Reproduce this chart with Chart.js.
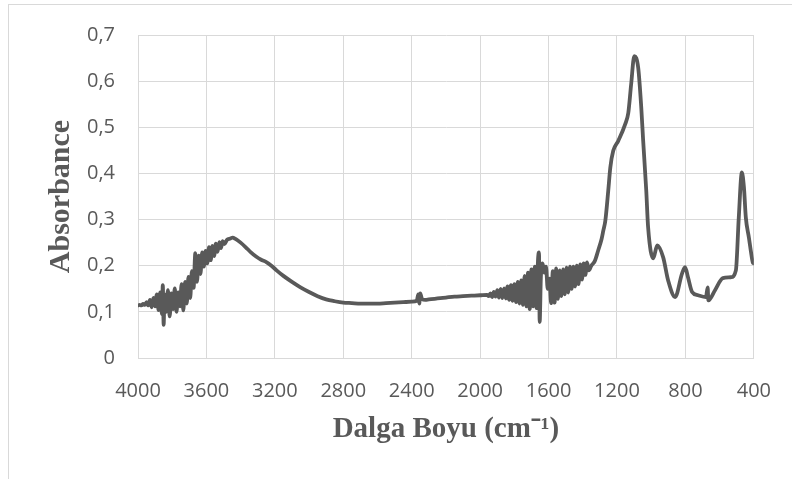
<!DOCTYPE html>
<html>
<head>
<meta charset="utf-8">
<script src="https://cdn.jsdelivr.net/npm/chart.js@4/dist/chart.umd.min.js"></script>
<style>
  html, body { margin: 0; padding: 0; background: #ffffff; overflow: hidden; }
  #wrap { position: relative; width: 792px; height: 479px; }
  #frame { position: absolute; left: 8px; top: 4px; width: 900px; height: 600px; border-top: 1px solid #d9d9d9; border-left: 1px solid #d9d9d9; }
  #c { position: absolute; left: 0; top: 0; }
</style>
</head>
<body>
<div id="wrap">
  <div id="frame"></div>
  <canvas id="c" width="792" height="479"></canvas>
</div>
<script>
// Wavenumber (cm-1) values
const wavenumbers = [
  4000,3990,3980,3970,3960,3950,3940,3930,3920,3910,3900,3890,3880,3870,3860,3855,3850,3845,
  3835,3825,3815,3805,3795,3785,3775,3765,3755,3745,3735,3725,3715,3705,3695,3685,3675,3665,
  3655,3645,3635,3625,3615,3605,3595,3585,3575,3565,3555,3545,3535,3525,3515,3505,3495,3480,
  3460,3447,3430,3400,3370,3340,3310,3280,3250,3220,3190,3150,3100,3050,3000,2950,2900,2850,
  2800,2750,2700,2650,2600,2550,2500,2450,2400,2370,2362,2356,2350,2340,2320,2300,2250,2200,
  2150,2100,2050,2000,1960,1950,1940,1930,1920,1910,1900,1890,1880,1870,1860,1850,1840,1830,
  1820,1810,1800,1790,1780,1770,1760,1750,1740,1730,1720,1710,1700,1690,1680,1670,1662,1656,
  1652,1645,1635,1625,1615,1605,1595,1585,1575,1565,1555,1545,1535,1525,1515,1505,1495,1485,
  1475,1465,1455,1445,1435,1425,1415,1405,1395,1385,1375,1365,1350,1330,1310,1290,1280,1268,
  1251,1239,1222,1192,1152,1134,1117,1099,1076,1058,1047,1029,1018,988,965,930,901,860,
  820,802,785,761,726,680,670,666,627,581,534,505,488,470,458,447,429,418,406,400
];
// Absorbance values
const absorbance = [
  0.114,0.115,0.114,0.117,0.115,0.121,0.114,0.126,0.110,0.130,0.112,0.138,0.104,0.142,0.095,0.158,0.072,0.138,
  0.100,0.147,0.090,0.140,0.106,0.151,0.100,0.142,0.112,0.160,0.103,0.165,0.118,0.176,0.130,0.188,0.152,0.227,
  0.165,0.222,0.182,0.229,0.198,0.232,0.205,0.240,0.212,0.243,0.221,0.248,0.230,0.251,0.238,0.253,0.247,0.256,
  0.259,0.261,0.258,0.250,0.240,0.229,0.220,0.213,0.208,0.200,0.190,0.178,0.165,0.153,0.143,0.134,0.127,0.123,
  0.120,0.119,0.118,0.118,0.118,0.119,0.120,0.121,0.122,0.124,0.138,0.118,0.140,0.128,0.126,0.127,0.129,0.131,
  0.133,0.134,0.135,0.136,0.137,0.134,0.140,0.132,0.143,0.133,0.147,0.131,0.150,0.130,0.151,0.129,0.155,0.126,
  0.158,0.124,0.160,0.121,0.165,0.118,0.168,0.115,0.178,0.112,0.185,0.106,0.192,0.112,0.198,0.108,0.210,0.229,
  0.078,0.175,0.205,0.185,0.198,0.150,0.172,0.119,0.188,0.120,0.194,0.128,0.190,0.134,0.192,0.138,0.196,0.142,
  0.198,0.150,0.198,0.155,0.200,0.160,0.203,0.170,0.205,0.180,0.207,0.190,0.200,0.210,0.233,0.258,0.276,0.298,
  0.363,0.413,0.449,0.471,0.507,0.531,0.594,0.654,0.629,0.542,0.471,0.363,0.283,0.216,0.244,0.218,0.168,0.132,
  0.183,0.197,0.175,0.143,0.136,0.132,0.153,0.125,0.147,0.173,0.175,0.190,0.305,0.402,0.370,0.305,0.261,0.233,0.207,0.205
];
const xRange = [400, 4000];
const xStep = 400;
const yRange = [0, 0.7];
const yStep = 0.1;
const xTitle = 'Dalga Boyu (cm\u207B\u00B9)';
const yTitle = 'Absorbance';

const points = wavenumbers.map((w, i) => ({ x: w, y: absorbance[i] }));
const textColor = '#595959';
const gridColor = '#d9d9d9';

new Chart(document.getElementById('c'), {
  type: 'line',
  data: {
    datasets: [{
      data: points,
      borderColor: '#595959',
      borderWidth: 3.8,
      pointRadius: 0,
      fill: false,
      cubicInterpolationMode: 'monotone',
      borderJoinStyle: 'round',
      borderCapStyle: 'round'
    }]
  },
  options: {
    responsive: false,
    animation: false,
    devicePixelRatio: 1,
    layout: { padding: { left: 0, right: 36, top: 34, bottom: 0 } },
    plugins: { legend: { display: false }, tooltip: { enabled: false } },
    scales: {
      x: {
        type: 'linear',
        reverse: true,
        min: xRange[0],
        max: xRange[1],
        afterFit: (s) => { s.height = 121; },
        grid: { color: gridColor, lineWidth: 1, drawTicks: false },
        border: { color: gridColor, width: 1 },
        ticks: {
          stepSize: xStep,
          autoSkip: false,
          maxRotation: 0,
          padding: 21,
          color: textColor,
          font: { family: 'Open Sans', size: 20 },
          callback: (v) => String(v)
        },
        title: {
          display: true,
          text: xTitle,
          color: textColor,
          font: { family: 'Liberation Serif', size: 29, weight: 'bold' },
          padding: { top: 0, bottom: 32 }
        }
      },
      y: {
        type: 'linear',
        min: yRange[0],
        max: yRange[1],
        afterFit: (s) => { s.width = 138; },
        grid: { color: gridColor, lineWidth: 1, drawTicks: false },
        border: { color: gridColor, width: 1 },
        ticks: {
          stepSize: yStep,
          padding: 23,
          color: textColor,
          font: { family: 'Open Sans', size: 20 },
          callback: (v) => v === 0 ? '0' : v.toFixed(1).replace('.', ',')
        },
        title: {
          display: true,
          text: yTitle,
          color: textColor,
          font: { family: 'Liberation Serif', size: 30, weight: 'bold' },
          padding: { top: 43, bottom: 0 }
        }
      }
    }
  }
});
</script>
</body>
</html>
